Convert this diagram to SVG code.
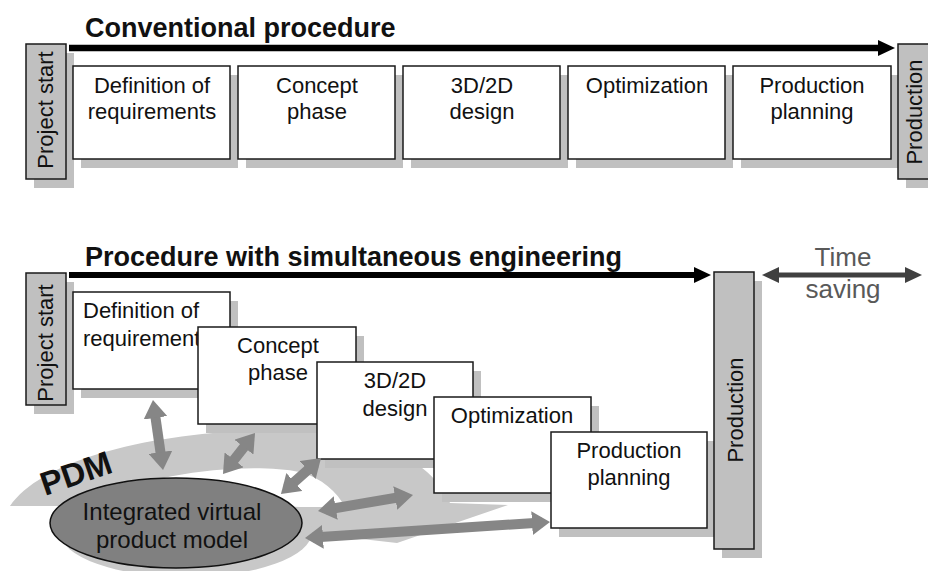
<svg xmlns="http://www.w3.org/2000/svg" width="928" height="571" viewBox="0 0 928 571">
<style>
text{font-family:"Liberation Sans",Arial,sans-serif;fill:#111}
.t{font-size:22px;text-anchor:middle}
.ts{font-size:22px}
.h{font-size:27px;font-weight:bold}
.box{fill:#fff;stroke:#1a1a1a;stroke-width:1.5}
.gbox{fill:#c0c0c0;stroke:#1a1a1a;stroke-width:1.5}
.sh{fill:#c0c0c0}
.ga{stroke:#868686;stroke-width:10;fill:none;marker-start:url(#gh);marker-end:url(#gh)}
</style>
<defs>
<marker id="gh" markerUnits="userSpaceOnUse" viewBox="0 0 18 24" markerWidth="18" markerHeight="24" refX="10" refY="12" orient="auto-start-reverse">
<path d="M0,0 L18,12 L0,24 Z" fill="#868686"/>
</marker>
</defs>
<rect width="928" height="571" fill="#fff"/>

<!-- Top section -->
<text class="h" x="85" y="37">Conventional procedure</text>
<g id="conn-top">
<line x1="69" y1="48" x2="881" y2="48" stroke="#000" stroke-width="6.5"/>
<polygon points="878,40 895,48 878,56" fill="#000"/>
</g>
<g id="top-start">
<rect class="sh" x="34" y="53" width="40" height="135"/>
<rect class="gbox" x="26" y="44" width="40" height="135"/>
<text class="t" transform="translate(53,110) rotate(-90)">Project start</text>
</g>
<g id="top-def">
<rect class="sh" x="81" y="75" width="157" height="93"/>
<rect class="box" x="73" y="66" width="157" height="93"/>
<text class="t" x="152" y="93">Definition of</text>
<text class="t" x="152" y="119">requirements</text>
</g>
<g id="top-concept">
<rect class="sh" x="246" y="75" width="157" height="93"/>
<rect class="box" x="238" y="66" width="157" height="93"/>
<text class="t" x="317" y="93">Concept</text>
<text class="t" x="317" y="119">phase</text>
</g>
<g id="top-design">
<rect class="sh" x="411" y="75" width="157" height="93"/>
<rect class="box" x="403" y="66" width="157" height="93"/>
<text class="t" x="482" y="93">3D/2D</text>
<text class="t" x="482" y="119">design</text>
</g>
<g id="top-opt">
<rect class="sh" x="576" y="75" width="157" height="93"/>
<rect class="box" x="568" y="66" width="157" height="93"/>
<text class="t" x="647" y="93">Optimization</text>
</g>
<g id="top-pp">
<rect class="sh" x="741" y="75" width="158" height="93"/>
<rect class="box" x="733" y="66" width="158" height="93"/>
<text class="t" x="812" y="93">Production</text>
<text class="t" x="812" y="119">planning</text>
</g>
<g id="top-production">
<rect class="sh" x="906" y="53" width="40" height="135"/>
<rect class="gbox" x="898" y="44" width="40" height="135"/>
<text class="t" transform="translate(922,112) rotate(-90)">Production</text>
</g>

<!-- Bottom section -->
<text class="h" x="85" y="266">Procedure with simultaneous engineering</text>

<g id="pdm-band">
<path d="M10,506 C40,462 140,434 260,430 C360,427 430,455 450,503 L508,505 L397,543 L300,532 L60,506 Z" fill="#c8c8c8"/>
<path d="M100,500 C150,472 250,462 300,472 C322,478 337,492 345,507 L300,507 L200,502 Z" fill="#fff"/>
<text transform="translate(45,496) rotate(-19)" style="font-size:33px;font-weight:bold">PDM</text>
</g>

<g id="bot-start">
<rect class="sh" x="34" y="282" width="40" height="132"/>
<rect class="gbox" x="26" y="273" width="40" height="132"/>
<text class="t" transform="translate(53,343) rotate(-90)">Project start</text>
</g>
<g id="bot-def">
<rect class="sh" x="81" y="301" width="157" height="97"/>
<rect class="box" x="73" y="292" width="157" height="97"/>
<text class="ts" x="83" y="318">Definition of</text>
<text class="ts" x="83" y="346">requirements</text>
</g>
<g id="bot-concept">
<rect class="sh" x="206" y="336" width="158" height="97"/>
<rect class="box" x="198" y="327" width="158" height="97"/>
<text class="t" x="278" y="353">Concept</text>
<text class="t" x="278" y="380">phase</text>
</g>
<g id="bot-design">
<rect class="sh" x="325" y="371" width="156" height="97"/>
<rect class="box" x="317" y="362" width="156" height="97"/>
<text class="t" x="395" y="388">3D/2D</text>
<text class="t" x="395" y="416">design</text>
</g>
<g id="bot-opt">
<rect class="sh" x="442" y="406" width="157" height="96"/>
<rect class="box" x="434" y="397" width="157" height="96"/>
<text class="t" x="512" y="423">Optimization</text>
</g>
<g id="bot-pp">
<rect class="sh" x="559" y="441" width="156" height="96"/>
<rect class="box" x="551" y="432" width="156" height="96"/>
<text class="t" x="629" y="458">Production</text>
<text class="t" x="629" y="485">planning</text>
</g>
<g id="bot-production">
<rect class="sh" x="722" y="281" width="40" height="277"/>
<rect class="gbox" x="714" y="272" width="40" height="277"/>
<text class="t" transform="translate(743,410) rotate(-90)">Production</text>
</g>

<g id="model">
<ellipse cx="186" cy="532" rx="126" ry="45" fill="#c8c8c8"/>
<ellipse cx="176" cy="523" rx="126" ry="45" fill="#808080" stroke="#111" stroke-width="1.5"/>
<text x="172" y="520" style="font-size:24px;text-anchor:middle">Integrated virtual</text>
<text x="172" y="548" style="font-size:24px;text-anchor:middle">product model</text>
</g>

<g id="time-saving">
<text x="843" y="266" style="font-size:26px;text-anchor:middle;fill:#595959">Time</text>
<text x="843" y="298" style="font-size:26px;text-anchor:middle;fill:#595959">saving</text>
</g>

<g id="connectors">
<line x1="69" y1="275" x2="697" y2="275" stroke="#000" stroke-width="6"/>
<polygon points="694,267 711,275 694,283" fill="#000"/>
<line x1="776" y1="275" x2="908" y2="275" stroke="#404040" stroke-width="5"/>
<polygon points="779,267 762,275 779,283" fill="#404040"/>
<polygon points="905,267 922,275 905,283" fill="#404040"/>
<line class="ga" x1="161.9" y1="462.1" x2="154.1" y2="407.9"/>
<line class="ga" x1="227.9" y1="467.7" x2="250.1" y2="439.3"/>
<line class="ga" x1="286.9" y1="488.6" x2="315.1" y2="463.4"/>
<line class="ga" x1="325.9" y1="509.7" x2="405.1" y2="496.3"/>
<line class="ga" x1="313" y1="537.5" x2="542" y2="522.5"/>
</g>
</svg>
